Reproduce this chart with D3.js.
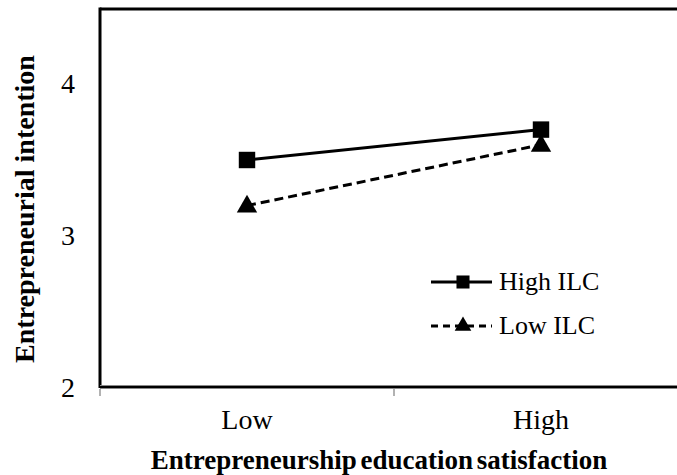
<!DOCTYPE html>
<head>
	<meta charset="utf-8">
	<script src="https://d3js.org/d3.v7.min.js"></script>
	<style>
		body { margin: 0; background: #fff; }
		text { font-family: "Liberation Serif", "Times New Roman", serif; fill: #000; }
	</style>
</head>
<body>
	<div id="chart"></div>
	<script>

	// data
	var categories = ["Low", "High"];
	var highILC = [3.5, 3.7];
	var lowILC = [3.2, 3.6];
	var yTicks = [2, 3, 4];

	var width = 677,
	height = 475;

	var svg = d3.select("#chart").append("svg")
	  .attr("width", width)
	  .attr("height", height);

	var x = d3.scaleBand()
		.domain(categories)
		.range([100, 688]);

	var y = d3.scaleLinear()
		.domain([2, 4.5])
		.range([388, 8]);

	// frame: top line and left axis
	svg.append("line")
		.attr("x1", 100).attr("x2", width)
		.attr("y1", y(4.5) + 1).attr("y2", y(4.5) + 1)
		.attr("stroke", "#000").attr("stroke-width", 3);
	svg.append("line")
		.attr("x1", 100).attr("x2", 100)
		.attr("y1", y(4.5) - 0.5).attr("y2", y(2))
		.attr("stroke", "#000").attr("stroke-width", 3);

	// y tick labels
	svg.append("g")
		.selectAll("text")
		.data(yTicks)
		.join("text")
			.attr("x", 68)
			.attr("y", d => y(d) + 9)
			.attr("text-anchor", "middle")
			.style("font-size", "28px")
			.text(d => d);

	// x axis
	var xAxis = svg.append("g")
		.attr("transform", "translate(0," + (y(2) - 1) + ")");
	xAxis.append("line")
		.attr("x1", 100).attr("x2", width)
		.attr("stroke", "#888").attr("stroke-width", 4);
	xAxis.append("line")
		.attr("x1", 100).attr("x2", width)
		.attr("stroke", "#000").attr("stroke-width", 2);
	xAxis.selectAll(".tick")
		.data([100, 100 + x.bandwidth(), 100 + 2 * x.bandwidth()])
		.join("line")
			.attr("x1", d => d).attr("x2", d => d)
			.attr("y1", 2).attr("y2", 9)
			.attr("stroke", "#999").attr("stroke-width", 1.5);
	xAxis.selectAll("text")
		.data(categories)
		.join("text")
			.attr("x", d => x(d) + x.bandwidth() / 2)
			.attr("y", 42)
			.attr("text-anchor", "middle")
			.style("font-size", "28px")
			.text(d => d);

	// axis titles
	svg.append("text")
		.attr("x", 379).attr("y", 469)
		.attr("text-anchor", "middle")
		.style("font-size", "27px").style("font-weight", "bold")
		.style("word-spacing", "-3px")
		.text("Entrepreneurship education satisfaction");
	svg.append("text")
		.attr("transform", "translate(34,209) rotate(-90)")
		.attr("text-anchor", "middle")
		.style("font-size", "28px").style("font-weight", "bold")
		.text("Entrepreneurial intention");

	var line = d3.line()
		.x((d, i) => x(categories[i]) + x.bandwidth() / 2)
		.y(d => y(d));

	var sq = d3.symbol().type(d3.symbolSquare).size(270);
	var tri = d3.symbol().type(d3.symbolTriangle).size(180);

	// High ILC
	svg.append("path")
		.attr("d", line(highILC))
		.attr("fill", "none").attr("stroke", "#000").attr("stroke-width", 3);
	svg.selectAll(".sq")
		.data(highILC)
		.join("path")
			.attr("transform", (d, i) => "translate(" + (x(categories[i]) + x.bandwidth() / 2) + "," + y(d) + ")")
			.attr("d", sq);

	// Low ILC
	svg.append("path")
		.attr("d", line(lowILC))
		.attr("fill", "none").attr("stroke", "#000").attr("stroke-width", 3)
		.attr("stroke-dasharray", "9,5");
	svg.selectAll(".tri")
		.data(lowILC)
		.join("path")
			.attr("transform", (d, i) => "translate(" + (x(categories[i]) + x.bandwidth() / 2) + "," + (y(d) + 1) + ")")
			.attr("d", tri);

	// legend
	var legSq = d3.symbol().type(d3.symbolSquare).size(170);
	var legTri = d3.symbol().type(d3.symbolTriangle).size(120);
	var legend = [
		{name: "High ILC", dash: null, sym: legSq, y: 282},
		{name: "Low ILC", dash: "7,5", sym: legTri, y: 326}
	];
	legend.forEach(function(l) {
		svg.append("line")
			.attr("x1", 431).attr("x2", 492)
			.attr("y1", l.y).attr("y2", l.y)
			.attr("stroke", "#000").attr("stroke-width", 3)
			.attr("stroke-dasharray", l.dash);
		svg.append("path")
			.attr("transform", "translate(463," + l.y + ")")
			.attr("d", l.sym);
		svg.append("text")
			.attr("x", 499).attr("y", l.y + 8)
			.style("font-size", "26px")
			.text(l.name);
	});
</script>
</body>
<html>
